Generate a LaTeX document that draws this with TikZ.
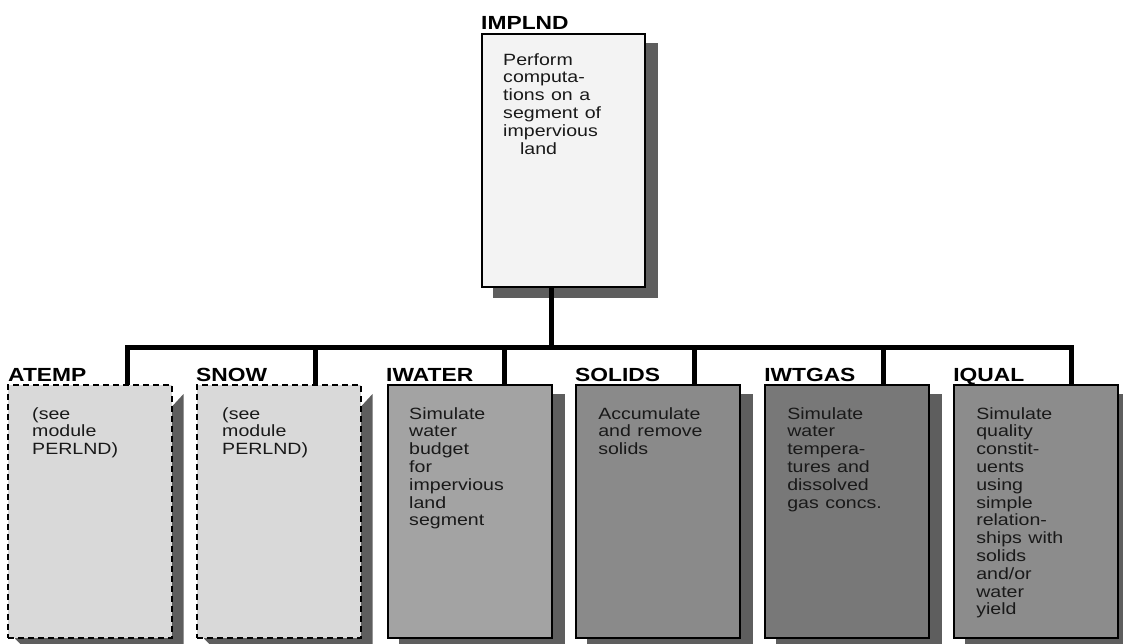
\documentclass[tikz,border=0pt]{standalone}
\usepackage{fontspec}
\setmainfont{Liberation Sans}
\usetikzlibrary{calc,backgrounds}
\definecolor{topfill}{HTML}{F3F3F3}
\definecolor{lightg}{HTML}{D9D9D9}
\definecolor{iwaterc}{HTML}{A3A3A3}
\definecolor{solidsc}{HTML}{8A8A8A}
\definecolor{iwtgasc}{HTML}{787878}
\definecolor{iqualc}{HTML}{8C8C8C}
\definecolor{shadowc}{HTML}{5E5E5E}
\begin{document}
\begin{tikzpicture}[x=1pt,y=-1pt,
  modbox/.style={draw=black, line width=1.5pt, minimum width=164pt, minimum height=253pt, anchor=north west, inner sep=0pt},
  dashbox/.style={modbox, dash pattern=on 6pt off 4pt},
  titletext/.style={font=\fontsize{19}{22}\selectfont\bfseries, xscale=1.2, anchor=base west, inner sep=0pt},
  bodytext/.style={font=\fontsize{16.3}{17.8}\selectfont, xscale=1.2, anchor=base west, inner sep=0pt, text width=130pt, align=left, text=black!90},
  conn/.style={line width=5pt, line join=miter, line cap=rect},
  shadowfill/.style={fill=shadowc}
]
\useasboundingbox (0,0) rectangle (1123,643);
\begin{pgfonlayer}{background}
\fill[white] (0,0) rectangle (1123,643);
\end{pgfonlayer}

% connectors (drawn first, under the boxes)
\coordinate (bar) at (0,347);
\coordinate (c1) at (127,384);
\coordinate (c2) at (315,384);
\coordinate (c3) at (504,384);
\coordinate (c4) at (694,384);
\coordinate (c5) at (883,384);
\coordinate (c6) at (1071,384);
\coordinate (ctop) at (551,286);
\draw[conn] (c1) -- (c1 |- bar) -- (c6 |- bar) -- (c6);
\draw[conn] (ctop) -- (ctop |- bar);
\foreach \c in {c2,c3,c4,c5} { \draw[conn] (\c) -- (\c |- bar); }

% boxes
\node[modbox, fill=topfill, minimum width=163pt] (top) at (481,33) {};
\node[dashbox, fill=lightg] (b1) at (7,384) {};
\node[dashbox, fill=lightg] (b2) at (196,384) {};
\node[modbox, fill=iwaterc] (b3) at (387,384) {};
\node[modbox, fill=solidsc] (b4) at (575,384) {};
\node[modbox, fill=iwtgasc] (b5) at (764,384) {};
\node[modbox, fill=iqualc] (b6) at (953,384) {};

% shadows
\begin{pgfonlayer}{background}
\fill[shadowfill] ($(top.north west)+(12,10)$) rectangle ($(top.south east)+(12,10)$);
\foreach \b in {b3,b4,b5,b6} {
  \fill[shadowfill] ($(\b.north west)+(12,10)$) rectangle ($(\b.south east)+(12,10)$);
}
\foreach \b in {b1,b2} {
  \fill[shadowfill] ($(\b.north east)+(0,22)$) -- ($(\b.north east)+(11,10)$) -- ($(\b.south east)+(11,10)$)
     -- ($(\b.south west)+(18,10)$) -- ($(\b.south west)+(8,0)$) -- cycle;
}
\end{pgfonlayer}

% titles
\node[titletext] (ttop) at ($(top.north west)+(0,-4)$) {IMPLND};
\node[titletext] (t1) at ($(b1.north west)+(1,-3)$) {ATEMP};
\node[titletext] (t2) at ($(b2.north west)+(0,-3)$) {SNOW};
\node[titletext] (t3) at ($(b3.north west)+(-1,-3)$) {IWATER};
\node[titletext] (t4) at ($(b4.north west)+(0,-3)$) {SOLIDS};
\node[titletext] (t5) at ($(b5.north west)+(0,-3)$) {IWTGAS};
\node[titletext] (t6) at ($(b6.north west)+(0,-3)$) {IQUAL};

% body texts
\node[bodytext] (xtop) at ($(top.north west)+(22,32)$) {Perform\\computa-\\tions on a\\segment of\\impervious\\\hspace*{14pt}land};
\node[bodytext] (x1) at ($(b1.north west)+(25,35)$) {(see\\module\\PERLND)};
\node[bodytext] (x2) at ($(b2.north west)+(26,35)$) {(see\\module\\PERLND)};
\node[bodytext] (x3) at ($(b3.north west)+(22,35)$) {Simulate\\water\\budget\\for\\impervious\\land\\segment};
\node[bodytext] (x4) at ($(b4.north west)+(23,35)$) {Accumulate\\and remove\\solids};
\node[bodytext] (x5) at ($(b5.north west)+(23,35)$) {Simulate\\water\\tempera-\\tures and\\dissolved\\gas concs.};
\node[bodytext] (x6) at ($(b6.north west)+(23,35)$) {Simulate\\quality\\constit-\\uents\\using\\simple\\relation-\\ships with\\solids\\and/or\\water\\yield};
\end{tikzpicture}
\end{document}
